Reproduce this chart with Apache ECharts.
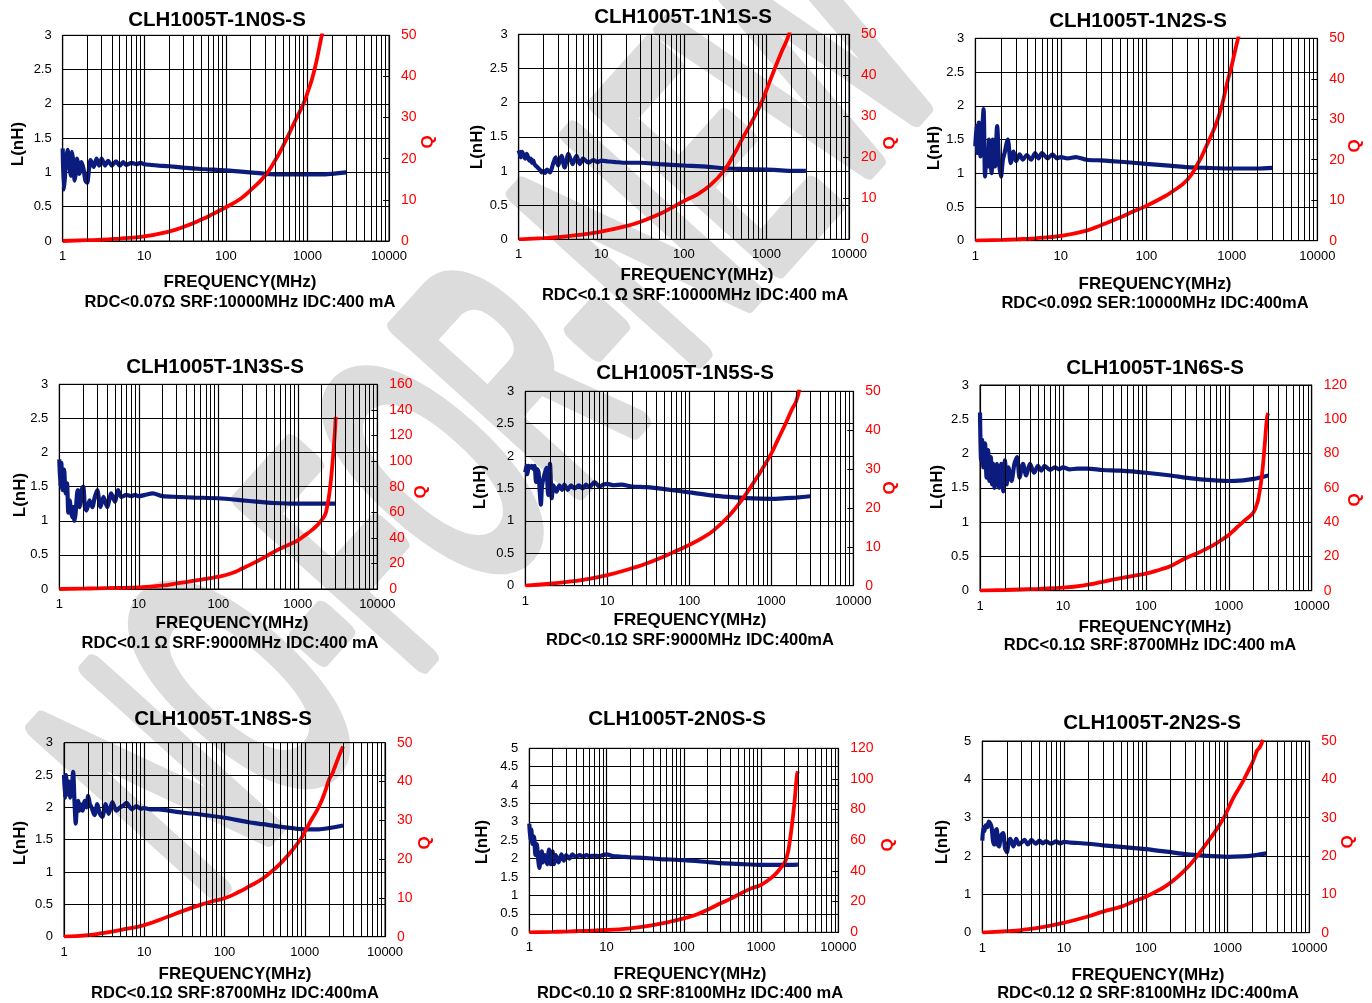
<!DOCTYPE html>
<html><head><meta charset="utf-8">
<script src="https://cdn.jsdelivr.net/npm/echarts@6/dist/echarts.min.js"></script>
<style>
html,body{margin:0;padding:0;background:#fff}
#wrap{position:relative;width:1372px;height:1003px;overflow:hidden}
#c{position:absolute;left:0;top:0;width:1372px;height:1003px}
#wm{position:absolute;left:0;top:0}
</style>
</head><body><div id="wrap">
<svg id="wm" width="1372" height="1003"><text x="0" y="0" transform="translate(485,410) rotate(-48) scale(0.48,1)" text-anchor="middle" dominant-baseline="central" font-family="Liberation Sans, Arial, sans-serif" font-size="350" fill="#dcdcdc" stroke="#dcdcdc" stroke-width="18" vector-effect="non-scaling-stroke" stroke-linejoin="round" stroke-linecap="round">NO-FOR-NEW</text></svg>
<div id="c"></div></div>
<script>
// ---------------- DATA ----------------
const FREQ_L = [1,1.03,1.06,1.1,1.15,1.2,1.25,1.3,1.35,1.4,1.45,1.5,1.55,1.6,1.7,1.8,1.9,2.0,2.1,2.2,2.4,2.6,2.8,3.0,3.3,3.6,4.0,4.5,5,5.5,6,7,8,9,10,12,15,20,30,50,100,200,300,500,1000,1500,2000,3000];
const FREQ_Q = [1,2,3,5,10,20,30,50,70,100,150,200,300,400,500,700,900,1000,1200,1500,1800,2000,2200,2300,2500,2700,2900,3000];

const L_1N0S = [1.35,0.75,0.9,1.2,1.33,1.1,0.95,1.3,1.15,0.88,1.0,1.2,1.12,0.98,1.15,1.05,0.88,0.85,1.05,1.18,1.08,1.2,1.1,1.2,1.1,1.17,1.1,1.16,1.1,1.15,1.11,1.14,1.12,1.14,1.12,1.11,1.1,1.09,1.07,1.05,1.03,1.0,0.98,0.97,0.97,0.97,0.98,1.0];
const L_1N1S = [1.3,1.25,1.2,1.28,1.22,1.18,1.25,1.2,1.15,1.18,1.12,1.15,1.1,1.08,1.05,1.02,0.98,1.0,0.97,1.02,0.98,1.1,1.2,1.08,1.22,1.05,1.25,1.1,1.22,1.1,1.18,1.12,1.16,1.13,1.15,1.14,1.13,1.12,1.12,1.1,1.08,1.06,1.04,1.03,1.02,1.01,1.0,1.0];
const L_1N2S = [1.4,1.7,1.3,1.75,1.25,1.6,1.95,0.95,1.3,1.1,1.5,1.25,1.0,1.5,1.1,1.7,1.15,0.95,1.2,1.3,1.5,1.15,1.32,1.18,1.28,1.2,1.27,1.2,1.3,1.22,1.3,1.22,1.28,1.22,1.24,1.22,1.24,1.2,1.19,1.17,1.14,1.11,1.09,1.08,1.07,1.07,1.07,1.08];
const L_1N3S = [1.9,1.5,1.85,1.45,1.75,1.4,1.55,1.12,1.3,1.15,1.05,1.2,1.0,1.1,1.45,1.2,1.45,1.5,1.2,1.15,1.3,1.2,1.35,1.45,1.2,1.35,1.2,1.4,1.28,1.45,1.35,1.38,1.36,1.38,1.36,1.38,1.4,1.36,1.35,1.34,1.33,1.3,1.28,1.26,1.25,1.25,1.25,1.25];
const L_1N5S = [1.75,1.85,1.72,1.85,1.82,1.85,1.8,1.85,1.6,1.8,1.75,1.45,1.25,1.55,1.7,1.82,1.4,1.88,1.35,1.55,1.45,1.55,1.48,1.56,1.48,1.55,1.5,1.55,1.5,1.56,1.52,1.6,1.53,1.56,1.57,1.55,1.56,1.53,1.52,1.49,1.44,1.39,1.37,1.35,1.34,1.35,1.36,1.38];
const L_1N6S = [2.6,1.9,2.2,1.8,2.15,1.65,2.05,1.6,1.95,1.55,1.85,1.5,1.75,1.85,1.5,1.85,1.45,1.9,1.55,1.8,1.6,1.85,1.95,1.65,1.85,1.68,1.85,1.72,1.82,1.75,1.82,1.76,1.8,1.77,1.8,1.77,1.78,1.78,1.76,1.75,1.72,1.68,1.65,1.62,1.6,1.61,1.63,1.68];
const L_1N8S = [2.5,2.15,2.5,2.2,2.4,2.15,2.3,2.55,2.1,1.75,2.05,2.1,1.95,2.05,1.95,2.1,2.0,2.18,2.05,2.0,1.88,2.05,1.9,1.85,2.05,1.9,2.08,1.95,2.0,2.03,2.07,1.97,2.02,1.98,1.99,1.97,1.97,1.95,1.92,1.89,1.84,1.77,1.74,1.7,1.66,1.66,1.68,1.72];
const L_2N0S = [2.95,2.5,2.8,2.4,2.6,2.1,2.4,2.0,1.75,2.0,2.2,1.9,2.0,2.1,1.85,2.25,1.85,2.2,1.85,2.1,1.9,2.12,1.95,2.1,2.0,2.12,2.05,2.1,2.05,2.1,2.07,2.08,2.07,2.1,2.12,2.07,2.06,2.04,2.02,1.99,1.96,1.91,1.88,1.86,1.83,1.83,1.83,1.84];
const L_2N2S = [2.4,2.75,2.65,2.8,2.75,2.9,2.85,2.75,2.4,2.3,2.65,2.7,2.3,2.25,2.55,2.6,2.2,2.1,2.35,2.45,2.25,2.45,2.3,2.35,2.42,2.3,2.42,2.32,2.4,2.33,2.38,2.32,2.38,2.33,2.37,2.35,2.34,2.32,2.28,2.24,2.18,2.1,2.05,2.01,1.98,1.99,2.01,2.07];

const Q_1N0S = [0,0.2,0.3,0.6,1.1,2.3,3.4,5.2,6.6,8.2,10.2,12.3,15.8,19.5,23,29,33.5,36,41,50,57,null,null,null,null,null,null,null];
const Q_1N1S = [0,0.3,0.5,1.0,1.9,3.2,4.3,6.1,7.6,9.3,11.1,12.9,16.5,20.5,24.2,29.5,34,36.4,40.5,45.4,49,52,null,null,null,null,null,null];
const Q_1N2S = [0,0.2,0.35,0.6,1.2,2.5,3.9,5.8,7.2,8.6,10.5,12.1,15,19,23.2,30.6,39.7,43.4,50.5,58,null,null,null,null,null,null,null,null];
const Q_1N3S = [0,0.3,0.5,0.8,1.3,2.8,4.4,6.5,8,9.6,12.5,16,21.4,25.5,29,33.5,36.5,38,41.5,46,50.5,54,58,62,75,95,119,134.6];
const Q_1N5S = [0,0.5,0.9,1.5,2.7,4.5,5.7,7.6,9,10.5,12.5,14.3,17.8,21,23.8,28.5,32.3,34,37.5,41.8,45.5,47.3,50.5,null,null,null,null,null];
const Q_1N6S = [0,0.4,0.7,1.1,1.75,3.5,5.2,7.3,8.7,10,12.4,14.4,18.9,21.5,23.7,27.5,31,32.5,36,40.3,43.5,46,51,55,66.5,84,101.5,103.5];
const Q_1N8S = [0,0.4,0.9,1.7,3,5.2,6.6,8.2,9.1,9.9,11.5,12.9,15,17.1,18.9,22.3,25.3,27,30,33.5,37.5,40.4,42,43,45,46.8,48.3,49];
const Q_2N0S = [0,0.3,0.5,0.9,1.5,2.6,3.7,5.6,7.2,9.1,11.8,14.6,18.9,21.8,24.3,28,30,30.9,33.5,37.4,42,45,51,55.9,69,84,101.5,105];
const Q_2N2S = [0,0.4,0.7,1.3,2.6,4.3,5.5,6.8,8.1,9.4,11.3,13,16.3,19.3,22,26.3,30,32,35.5,39,42.3,44.2,46.5,47.5,48.5,50.3,null,null];

const TITLES = ['CLH1005T-1N0S-S','CLH1005T-1N1S-S','CLH1005T-1N2S-S','CLH1005T-1N3S-S','CLH1005T-1N5S-S','CLH1005T-1N6S-S','CLH1005T-1N8S-S','CLH1005T-2N0S-S','CLH1005T-2N2S-S'];
const RDC_TEXT = ['RDC<0.07Ω SRF:10000MHz IDC:400 mA','RDC<0.1 Ω SRF:10000MHz IDC:400 mA','RDC<0.09Ω SER:10000MHz IDC:400mA','RDC<0.1 Ω SRF:9000MHz IDC:400 mA','RDC<0.1Ω SRF:9000MHz IDC:400mA','RDC<0.1Ω SRF:8700MHz IDC:400 mA','RDC<0.1Ω SRF:8700MHz IDC:400mA','RDC<0.10 Ω SRF:8100MHz IDC:400 mA','RDC<0.12 Ω SRF:8100MHz IDC:400mA'];
const L_SERIES = [L_1N0S,L_1N1S,L_1N2S,L_1N3S,L_1N5S,L_1N6S,L_1N8S,L_2N0S,L_2N2S];
const Q_SERIES = [Q_1N0S,Q_1N1S,Q_1N2S,Q_1N3S,Q_1N5S,Q_1N6S,Q_1N8S,Q_2N0S,Q_2N2S];
const L_AXIS = [[3,0.5],[3,0.5],[3,0.5],[3,0.5],[3,0.5],[3,0.5],[3,0.5],[5,0.5],[5,1]];
const Q_AXIS = [[50,10],[50,10],[50,10],[160,20],[50,10],[120,20],[50,10],[120,20],[50,10]];
const MINOR_X = [2,3,4,5,6,7,8,9,20,30,40,50,60,70,80,90,200,300,400,500,600,700,800,900,2000,3000,4000,5000,6000,7000,8000,9000];
const X_LABEL = 'FREQUENCY(MHz)';

// ---------------- LAYOUT ----------------
const LAYOUT = [
 {g:[62.7,35.3,326.3,205.7], t:[217,20],  ln:[18,144],  q:[428,142],  f:[240,282], r:[240,302]},
 {g:[518.7,34.3,330.3,205],  t:[683,17],  ln:[477,147], q:[890,143],  f:[697,275], r:[695,295]},
 {g:[975.3,38.3,342,202.4],  t:[1138,21], ln:[934,148], q:[1355,146], f:[1155,284],r:[1155,303]},
 {g:[59.3,384.3,318,204.7],  t:[215,367], ln:[20,495],  q:[421,492],  f:[232,623], r:[230,643]},
 {g:[525.3,391.3,328,194.4], t:[685,373], ln:[480,487], q:[890,488],  f:[690,620], r:[690,640]},
 {g:[980,385,331.7,205.7],   t:[1155,368],ln:[937,487], q:[1355,500], f:[1155,627],r:[1150,645]},
 {g:[64,742.7,321,194],      t:[223,719], ln:[20,843],  q:[425,843],  f:[235,974], r:[235,993]},
 {g:[529.3,748.3,309,184],   t:[677,719], ln:[482,842], q:[888,845],  f:[690,974], r:[690,993]},
 {g:[982.3,741,327,191.7],   t:[1152,723],ln:[942,842], q:[1348,842], f:[1148,975],r:[1148,993]}
];

const FONT = '"Liberation Sans", Arial, sans-serif';
const BLUE = '#0b1c7e', RED = '#ff0000';

const grids = [], xAxes = [], yAxes = [], series = [], graphics = [];

function txt(x,y,text,font,fill,rot){
  return {type:'text', x:x, y:y, rotation:rot||0, z:10,
    style:{text:text, font:font, fill:fill, textAlign:'center', textVerticalAlign:'middle', verticalAlign:'middle'}};
}

for (let i=0;i<9;i++){
  const lay = LAYOUT[i];
  grids.push({left:lay.g[0], top:lay.g[1], width:lay.g[2], height:lay.g[3], show:true, borderColor:'#000', borderWidth:1, backgroundColor:'transparent', containLabel:false});
  xAxes.push({type:'log', logBase:10, min:1, max:10000, gridIndex:i,
    axisLine:{show:true, lineStyle:{color:'#000', width:1}}, axisTick:{show:false},
    axisLabel:{color:'#000', fontSize:13, fontFamily:FONT, margin:9, showMinLabel:true, showMaxLabel:true, formatter:v=>String(Math.round(v))},
    splitLine:{show:true, lineStyle:{color:'#000', width:1.2}}});
  yAxes.push({type:'value', gridIndex:i, min:0, max:L_AXIS[i][0], interval:L_AXIS[i][1], position:'left',
    axisLine:{show:true, lineStyle:{color:'#000'}}, axisTick:{show:false},
    axisLabel:{color:'#000', fontSize:13, fontFamily:FONT, margin:11},
    splitLine:{show:true, lineStyle:{color:'#000', width:1.2}}});
  yAxes.push({type:'value', gridIndex:i, min:0, max:Q_AXIS[i][0], interval:Q_AXIS[i][1], position:'right',
    axisLine:{show:true, lineStyle:{color:'#000'}}, axisTick:{show:true, inside:true, length:6, lineStyle:{color:'#000'}},
    axisLabel:{color:RED, fontSize:14, fontFamily:FONT, margin:12},
    splitLine:{show:false}});
  series.push({type:'line', xAxisIndex:i, yAxisIndex:2*i, data:[], z:1, silent:true,
    markLine:{silent:true, symbol:'none', animation:false, label:{show:false},
      lineStyle:{color:'#000', width:1, type:'solid'},
      data: MINOR_X.map(v=>({xAxis:v}))}});
  series.push({type:'line', xAxisIndex:i, yAxisIndex:2*i, z:3, showSymbol:false, symbol:'none', smooth:0.25,
    lineStyle:{color:BLUE, width:4.2}, itemStyle:{color:BLUE},
    data: FREQ_L.map((f,k)=>[f, L_SERIES[i][k]])});
  series.push({type:'line', xAxisIndex:i, yAxisIndex:2*i+1, z:4, showSymbol:false, symbol:'none', clip:true, smooth:0.5,
    lineStyle:{color:RED, width:3.8}, itemStyle:{color:RED},
    data: FREQ_Q.map((f,k)=>[f, Q_SERIES[i][k]])});

  graphics.push(txt(lay.t[0], lay.t[1], TITLES[i], 'bold 20.5px '+FONT, '#000'));
  graphics.push(txt(lay.ln[0], lay.ln[1], 'L(nH)', 'bold 17px '+FONT, '#000', Math.PI/2));
  graphics.push(txt(lay.q[0], lay.q[1], 'Q', 'bold 17px '+FONT, RED, Math.PI/2));
  graphics.push(txt(lay.f[0], lay.f[1], X_LABEL, 'bold 17px '+FONT, '#000'));
  graphics.push(txt(lay.r[0], lay.r[1], RDC_TEXT[i], 'bold 16.5px '+FONT, '#000'));
}

const chart = echarts.init(document.getElementById('c'), null, {renderer:'canvas'});
chart.setOption({
  animation:false,
  backgroundColor:'transparent',
  grid:grids, xAxis:xAxes, yAxis:yAxes, series:series,
  graphic:{elements:graphics}
});
</script>
</body></html>
